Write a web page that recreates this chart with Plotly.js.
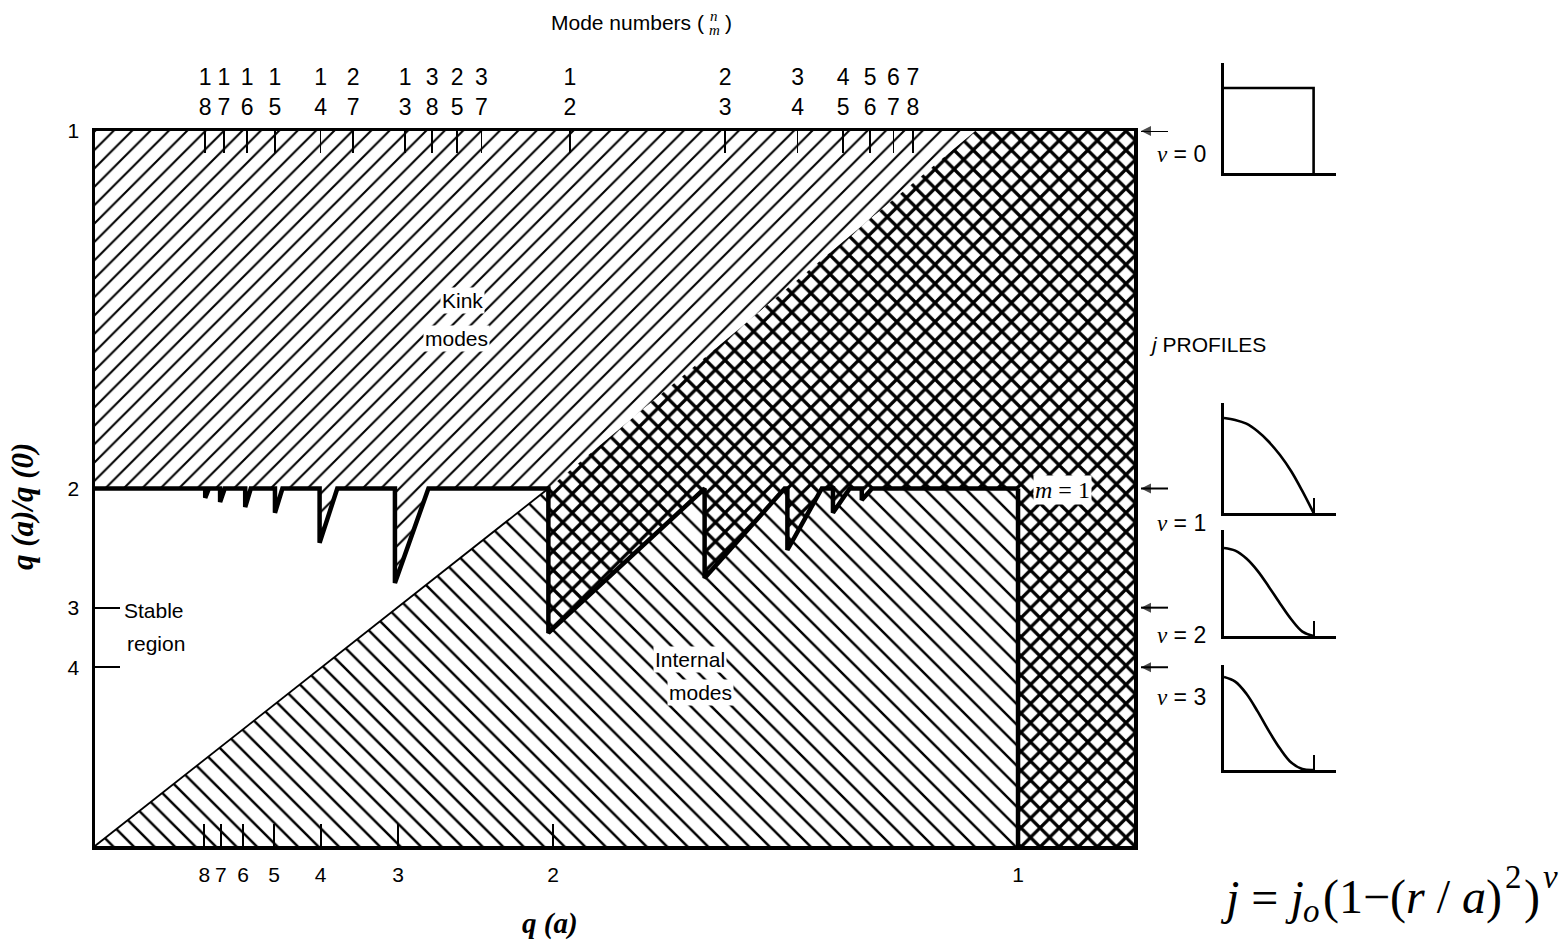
<!DOCTYPE html>
<html>
<head>
<meta charset="utf-8">
<script src="https://cdn.plot.ly/plotly-3.0.1.min.js"></script>
<style>
  html, body { margin: 0; padding: 0; background: #fff; }
  #chart { width: 1562px; height: 945px; }
</style>
</head>
<body>
<div id="chart"></div>
<script>
// q(a) values marked along the bottom axis (the axis is linear in 1/q(a))
const qEdgeTicks = [8, 7, 6, 5, 4, 3, 2, 1];
// q(a)/q(0) values marked on the left axis (the axis is linear in q(0)/q(a))
const qRatioTicks = [1, 2, 3, 4];

// kink mode numbers n over m along the top edge and where each one sits (in 1/q(a))
const modeN = [1, 1, 1, 1, 1, 2, 1, 3, 2, 3, 1, 2, 3, 4, 5, 6, 7];
const modeM = [8, 7, 6, 5, 4, 7, 3, 8, 5, 7, 2, 3, 4, 5, 6, 7, 8];
const modePos = [0.126, 0.146, 0.171, 0.201, 0.250, 0.285, 0.341, 0.370, 0.397, 0.423,
                 0.518, 0.685, 0.763, 0.812, 0.841, 0.866, 0.887];

// m = 1 boundary with the external kink notches (x = 1/q(a), y = q(0)/q(a))
const kinkEdgeX = [0.0075, 0.126, 0.126, 0.130, 0.142, 0.142, 0.147, 0.169, 0.169, 0.175,
                   0.201, 0.201, 0.209, 0.249, 0.249, 0.268, 0.330, 0.330, 0.366, 0.495];
const kinkEdgeY = [0.5, 0.5, 0.487, 0.5, 0.5, 0.481, 0.5, 0.5, 0.474, 0.5,
                   0.5, 0.466, 0.5, 0.5, 0.424, 0.5, 0.5, 0.368, 0.5, 0.5];

// internal mode sawtooth between q(a) = 2 and q(a) = 1
const internalEdgeX = [0.495, 0.495, 0.663, 0.663, 0.749, 0.752, 0.752, 0.789, 0.801, 0.801,
                       0.819, 0.832, 0.832, 0.843, 1.0];
const internalEdgeY = [0.5, 0.298, 0.5, 0.375, 0.5, 0.5, 0.414, 0.5, 0.5, 0.466,
                       0.5, 0.5, 0.484, 0.5, 0.5];

// q(0) = 1 line
const q0LineX = [0.0075, 0.495, 0.954];
const q0LineY = [0, 0.5, 1];

// q(a) = 1 boundary and the m = 1 level, q(a)/q(0) = 2
const qaOne = 1;
const m1Ratio = 2;

// current density profiles j/j0 against r/a
const stepR = [0, 1, 1];
const stepJ = [1, 1, 0];
const profileR = [0, 0.125, 0.25, 0.375, 0.5, 0.625, 0.75, 0.875, 1];
const profileNu1 = [1, 0.98, 0.94, 0.86, 0.75, 0.61, 0.44, 0.23, 0];
const profileNu2 = [1, 0.97, 0.88, 0.74, 0.56, 0.37, 0.19, 0.05, 0];
const profileNu3 = [1, 0.95, 0.82, 0.63, 0.42, 0.23, 0.08, 0.01, 0];
const nuValues = [0, 1, 2, 3];

// ---------- page geometry ----------
const W = 1562, H = 945;
const M = { l: 95, r: 7, t: 40, b: 99 };
const PW = W - M.l - M.r;
const PH = H - M.t - M.b;
const fx = p => (p - M.l) / PW;          // pixel column -> paper x
const fy = p => (H - M.b - p) / PH;      // pixel row -> paper y

const xRange = [0.0075, 1.1247];
const yRange = [0, 1];
const mainXDomain = [0, fx(1134)];
const mainYDomain = [0, fy(131)];

const SANS = 'Liberation Sans, Arial, sans-serif';
const SERIF = 'Liberation Serif, Times New Roman, serif';
const BLACK = '#000';

function hatch(shape, size, solidity) {
  return { shape: shape, size: size, solidity: solidity, fgcolor: BLACK, bgcolor: '#fff', fillmode: 'replace' };
}

// ---------- regions ----------
const m1Level = 1 / m1Ratio;
const qaOneX = 1 / qaOne;

// kink-unstable region: above the m = 1 boundary, left of q(0) = 1
const kinkX = [xRange[0]].concat(kinkEdgeX, [q0LineX[2], xRange[0]]);
const kinkY = [yRange[1]].concat(kinkEdgeY, [q0LineY[2], yRange[1]]);

// internal-mode region: below q(0) = 1 and the sawtooth, left of q(a) = 1
const internalX = [q0LineX[0]].concat(internalEdgeX, [qaOneX, q0LineX[0]]);
const internalY = [q0LineY[0]].concat(internalEdgeY, [yRange[0], q0LineY[0]]);

// region unstable to both
const revX = internalEdgeX.slice().reverse();
const revY = internalEdgeY.slice().reverse();
const bothX = [q0LineX[1], q0LineX[2], xRange[1] + 0.01, xRange[1] + 0.01, qaOneX].concat(revX);
const bothY = [q0LineY[1], q0LineY[2], yRange[1], yRange[0], yRange[0]].concat(revY);

const traces = [
  { x: kinkX, y: kinkY, type: 'scatter', mode: 'none', fill: 'toself', fillcolor: '#fff',
    fillpattern: hatch('/', 13, 0.16), hoverinfo: 'skip', showlegend: false },
  { x: internalX, y: internalY, type: 'scatter', mode: 'none', fill: 'toself', fillcolor: '#fff',
    fillpattern: hatch('\\', 14.5, 0.17), hoverinfo: 'skip', showlegend: false },
  { x: bothX, y: bothY, type: 'scatter', mode: 'none', fill: 'toself', fillcolor: '#fff',
    fillpattern: hatch('x', 13.5, 0.42), hoverinfo: 'skip', showlegend: false },
  // lower edge of the stable region, q(0) = 1
  { x: q0LineX.slice(0, 2), y: q0LineY.slice(0, 2), type: 'scatter', mode: 'lines',
    line: { color: BLACK, width: 1.8 }, hoverinfo: 'skip', showlegend: false },
  // m = 1 stability boundary with kink notches and internal sawtooth
  { x: kinkEdgeX.concat(internalEdgeX), y: kinkEdgeY.concat(internalEdgeY), type: 'scatter', mode: 'lines',
    line: { color: BLACK, width: 4.5 }, hoverinfo: 'skip', showlegend: false },
  // q(a) = 1
  { x: [qaOneX, qaOneX], y: [m1Level, yRange[0]], type: 'scatter', mode: 'lines',
    line: { color: BLACK, width: 4.5 }, hoverinfo: 'skip', showlegend: false },
  // carries the mode-number axis along the top edge
  { x: xRange, y: yRange, xaxis: 'x2', yaxis: 'y', type: 'scatter', mode: 'none',
    hoverinfo: 'skip', showlegend: false }
];

// pointers on the right edge at q(a)/q(0) = nu + 1, drawn on a narrow strip axis
const ptrX = [], ptrY = [], ptrSize = [];
nuValues.forEach(nu => {
  ptrX.push(0, 1, null);
  ptrY.push(1 / (nu + 1), 1 / (nu + 1), null);
  ptrSize.push(10, 0, 0);
});
traces.push({
  x: ptrX, y: ptrY, xaxis: 'x7', yaxis: 'y', type: 'scatter', mode: 'lines+markers',
  line: { color: BLACK, width: 2 },
  marker: { symbol: 'arrow-left', size: ptrSize, color: BLACK, line: { width: 0 } },
  cliponaxis: false, hoverinfo: 'skip', showlegend: false
});

// ---------- current profile insets ----------
const insets = [
  { r: stepR, j: stepJ, top: 63, base: 173, one: 88, tick: false, spline: false },
  { r: profileR, j: profileNu1, top: 403, base: 513, one: 418, tick: true, spline: true },
  { r: profileR, j: profileNu2, top: 530, base: 636, one: 548, tick: true, spline: true },
  { r: profileR, j: profileNu3, top: 665, base: 770, one: 677, tick: true, spline: true }
];

const layout = {
  width: W, height: H,
  margin: M,
  paper_bgcolor: '#fff', plot_bgcolor: 'rgba(0,0,0,0)',
  showlegend: false, hovermode: false,
  font: { family: SANS, size: 21, color: BLACK },
  xaxis: {
    domain: mainXDomain, range: xRange, anchor: 'y',
    showline: true, linecolor: BLACK, linewidth: 3.5,
    showgrid: false, zeroline: false,
    tickmode: 'array', tickvals: qEdgeTicks.map(q => 1 / q), ticktext: qEdgeTicks.map(String),
    ticks: 'inside', ticklen: 22, tickwidth: 2, tickcolor: BLACK,
    tickfont: { family: SANS, size: 21, color: BLACK }, ticklabelstandoff: 7
  },
  xaxis2: {
    overlaying: 'x', side: 'top', anchor: 'y', range: xRange,
    showline: true, linecolor: BLACK, linewidth: 3.5,
    showgrid: false, zeroline: false,
    tickmode: 'array', tickvals: modePos, ticktext: modeN.map((n, i) => n + '<br>' + modeM[i]),
    ticks: 'inside', ticklen: 22, tickwidth: 1.6, tickcolor: BLACK,
    tickfont: { family: SANS, size: 23, color: BLACK }, ticklabelstandoff: 3
  },
  xaxis7: {
    domain: [fx(1141), fx(1168)], range: [0, 1], anchor: 'y', visible: false
  },
  yaxis: {
    domain: mainYDomain, range: yRange, anchor: 'x',
    showline: true, mirror: true, linecolor: BLACK, linewidth: 3.5,
    showgrid: false, zeroline: false,
    tickmode: 'array', tickvals: qRatioTicks.map(r => 1 / r), ticktext: qRatioTicks.map(String),
    ticks: 'inside', ticklen: 25, tickwidth: 2, tickcolor: BLACK,
    tickfont: { family: SANS, size: 21, color: BLACK }, ticklabelstandoff: 8
  },
  annotations: [],
  shapes: []
};

insets.forEach((p, i) => {
  const k = i + 3;
  const xa = 'xaxis' + k, ya = 'yaxis' + k;
  traces.push({
    x: p.r, y: p.j, xaxis: 'x' + k, yaxis: 'y' + k, type: 'scatter', mode: 'lines',
    line: { color: BLACK, width: 2.6, shape: p.spline ? 'spline' : 'linear', smoothing: 1 },
    hoverinfo: 'skip', showlegend: false, cliponaxis: false
  });
  layout[xa] = {
    domain: [fx(1224), fx(1336)], range: [0, 1.25], anchor: 'y' + k,
    showline: true, linecolor: BLACK, linewidth: 2.6, showgrid: false, zeroline: false,
    showticklabels: false, tickmode: 'array', tickvals: p.tick ? [1] : [],
    ticks: p.tick ? 'inside' : '', ticklen: 15, tickwidth: 2, tickcolor: BLACK
  };
  layout[ya] = {
    domain: [fy(p.base), fy(p.top)], range: [0, (p.base - p.top) / (p.base - p.one)], anchor: 'x' + k,
    showline: true, linecolor: BLACK, linewidth: 2.6, showgrid: false, zeroline: false,
    showticklabels: false, ticks: ''
  };
});

const A = layout.annotations;
function label(text, xp, yp, opts) {
  A.push(Object.assign({
    text: text, xref: 'paper', yref: 'paper', x: fx(xp), y: fy(yp),
    showarrow: false, xanchor: 'center', yanchor: 'middle',
    font: { family: SANS, size: 21, color: BLACK }
  }, opts || {}));
}

// titles
label('Mode numbers (', 706, 23, { xanchor: 'right', font: { family: SANS, size: 21, color: BLACK } });
label(')', 723, 23, { xanchor: 'left', font: { family: SANS, size: 21, color: BLACK } });
label('<i>n</i>', 714, 16, { font: { family: SERIF, size: 15, color: BLACK } });
label('<i>m</i>', 714, 30, { font: { family: SERIF, size: 15, color: BLACK } });
label('<b><i>q (a)</i></b>', 550, 923, { font: { family: SERIF, size: 29, color: BLACK } });
label('<b><i>q (a)/q (0)</i></b>', 22, 507, { textangle: -90, font: { family: SERIF, size: 31, color: BLACK } });

// region names
const boxed = { bgcolor: '#fff', borderpad: 1 };
label('Kink', 462, 300, boxed);
label('modes', 456, 338, boxed);
label('Internal', 690, 659, boxed);
label('modes', 700, 692, boxed);
label('Stable', 122, 610, { xanchor: 'left' });
label('region', 125, 643, { xanchor: 'left' });
label('<i>m</i> = 1', 1062, 490, { bgcolor: '#fff', borderpad: 1,
      font: { family: SERIF, size: 24, color: BLACK } });

// profile panel
label('<i>j</i> PROFILES', 1147, 345, { xanchor: 'left' });
const nuLabelRows = [154, 523, 635, 697];
nuValues.forEach((nu, i) => {
  label('<span style="font-family:Liberation Serif"><i>ν</i></span> = ' + nu, 1181, nuLabelRows[i],
        { font: { family: SANS, size: 23, color: BLACK } });
});

// profile formula j = j_o (1 - (r/a)^2)^nu, set piece by piece with measured widths
const FORMULA_SIZE = 48, SMALL_SIZE = 33;
const measureCtx = document.createElement('canvas').getContext('2d');
function segWidth(segs, size) {
  return segs.reduce((s, seg) => {
    measureCtx.font = (seg[1] ? 'italic ' : '') + size + 'px "Liberation Serif"';
    return s + measureCtx.measureText(seg[0]).width;
  }, 0);
}
const formulaPieces = [
  { segs: [['j', 1], [' = ', 0], ['j', 1]], size: FORMULA_SIZE, dy: 0, gap: 6 },
  { segs: [['o', 1]], size: SMALL_SIZE, dy: 14, gap: 3 },
  { segs: [['(1−(', 0], ['r', 1], [' / ', 0], ['a', 1], [')', 0]], size: FORMULA_SIZE, dy: 0, gap: 3 },
  { segs: [['2', 0]], size: SMALL_SIZE, dy: -20, gap: 3 },
  { segs: [[')', 0]], size: FORMULA_SIZE, dy: 0, gap: 3 },
  { segs: [['ν', 1]], size: SMALL_SIZE, dy: -20, gap: 0 }
];
const pieceWidths = formulaPieces.map(p => segWidth(p.segs, p.size) + p.gap);
let cursor = 1557 - pieceWidths.reduce((a, b) => a + b, 0);
formulaPieces.forEach((p, i) => {
  const html = p.segs.map(s => s[1] ? '<i>' + s[0] + '</i>' : s[0]).join('');
  label(html, cursor, 897 + p.dy, { xanchor: 'left', borderpad: 0,
        font: { family: SERIF, size: p.size, color: BLACK } });
  cursor += pieceWidths[i];
});

Plotly.newPlot('chart', traces, layout, { staticPlot: true, displayModeBar: false });
</script>
</body>
</html>
